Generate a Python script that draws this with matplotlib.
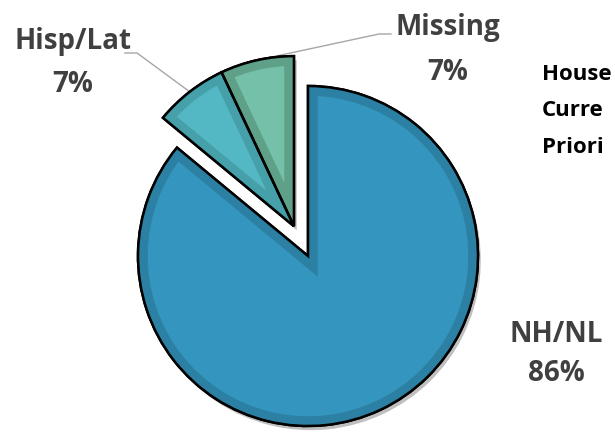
import numpy as np
import matplotlib
matplotlib.use("Agg")
import matplotlib.pyplot as plt
import matplotlib.patheffects as pe

# Slice data (clockwise from 12 o'clock)
labels = ["NH/NL", "Hisp/Lat", "Missing"]
values = [86, 7, 7]
pct_labels = ["86%", "7%", "7%"]
side_text = ["House", "Curre", "Priori"]

# Colours: inner fill / inner border band
fill_colors = ["#3496be", "#54b7c4", "#74c0a8"]
band_colors = ["#2b80a3", "#46a0aa", "#5ea088"]

# Layout (pixel coords, y up)
W, H = 615, 432
center = (308, 176)
radius = 170
pull_out = 33           # distance the two small slices are pulled out
label_pos = {            # (x, baseline of name, baseline of pct)
    "NH/NL": (556, H - 342, H - 381),
    "Hisp/Lat": (73, H - 49, H - 92),
    "Missing": (448, H - 35, H - 80),
}
leader_elbow = {"Hisp/Lat": [(137, H - 53), (125, H - 53)],
                "Missing": [(379, H - 34), (391, H - 34)]}

fig = plt.figure(figsize=(W / 100, H / 100), dpi=100)
ax = fig.add_axes([0, 0, 1, 1])

common = dict(startangle=90, counterclock=False, center=center, radius=radius)

# Layer 1: base with shadow
base, _ = ax.pie(values, colors=band_colors, wedgeprops=dict(
    edgecolor="black", linewidth=1.8,
    path_effects=[pe.SimplePatchShadow(offset=(2, -3), shadow_rgbFace="k", alpha=0.25), pe.Normal()]), **common)
# Layer 2: lighter fill with darker band along the inside of the edge
inner, _ = ax.pie(values, colors=fill_colors, wedgeprops=dict(linewidth=14), **common)
# Layer 3: black outline
outline, _ = ax.pie(values, colors=["none"] * 3, wedgeprops=dict(edgecolor="black", linewidth=1.8), **common)

# pull the two small slices out together
small_mid = np.mean([(w.theta1 + w.theta2) / 2 for w in base[1:]])
dx = pull_out * np.cos(np.radians(small_mid))
dy = pull_out * np.sin(np.radians(small_mid))
for group in (base, inner, outline):
    for w in group[1:]:
        w.set_center((center[0] + dx, center[1] + dy))

# clip the thick band to the wedge itself so it only shows inside
for w, bc in zip(inner, band_colors):
    w.set_edgecolor(bc)
    w.set_clip_on(True)
    w.set_clip_path(w.get_path(), ax.transData)

txt_kw = dict(family=["Open Sans", "DejaVu Sans"], fontweight="bold", color="#404040", fontsize=20)
for i, lab in enumerate(labels):
    x, yn, yp = label_pos[lab]
    ax.text(x, yn, lab, ha="center", va="baseline", **txt_kw)
    ax.text(x, yp, pct_labels[i], ha="center", va="baseline", **txt_kw)
    if lab in leader_elbow:
        w = base[i]
        a = np.radians((w.theta1 + w.theta2) / 2)
        cx, cy = w.center
        pts = [(cx + radius * np.cos(a), cy + radius * np.sin(a))] + leader_elbow[lab]
        xs, ys = zip(*pts)
        ax.plot(xs, ys, color="#a6a6a6", linewidth=1.0, zorder=0)

for j, line in enumerate(side_text):
    ax.text(542, H - 80 - 36.5 * j, line, ha="left", va="baseline",
            family=["Open Sans", "DejaVu Sans"], fontweight="bold", fontsize=16,
            color="black")

ax.set_xlim(0, W)
ax.set_ylim(0, H)
ax.set_aspect("equal")
ax.axis("off")

fig.savefig("out.png", dpi=100)
